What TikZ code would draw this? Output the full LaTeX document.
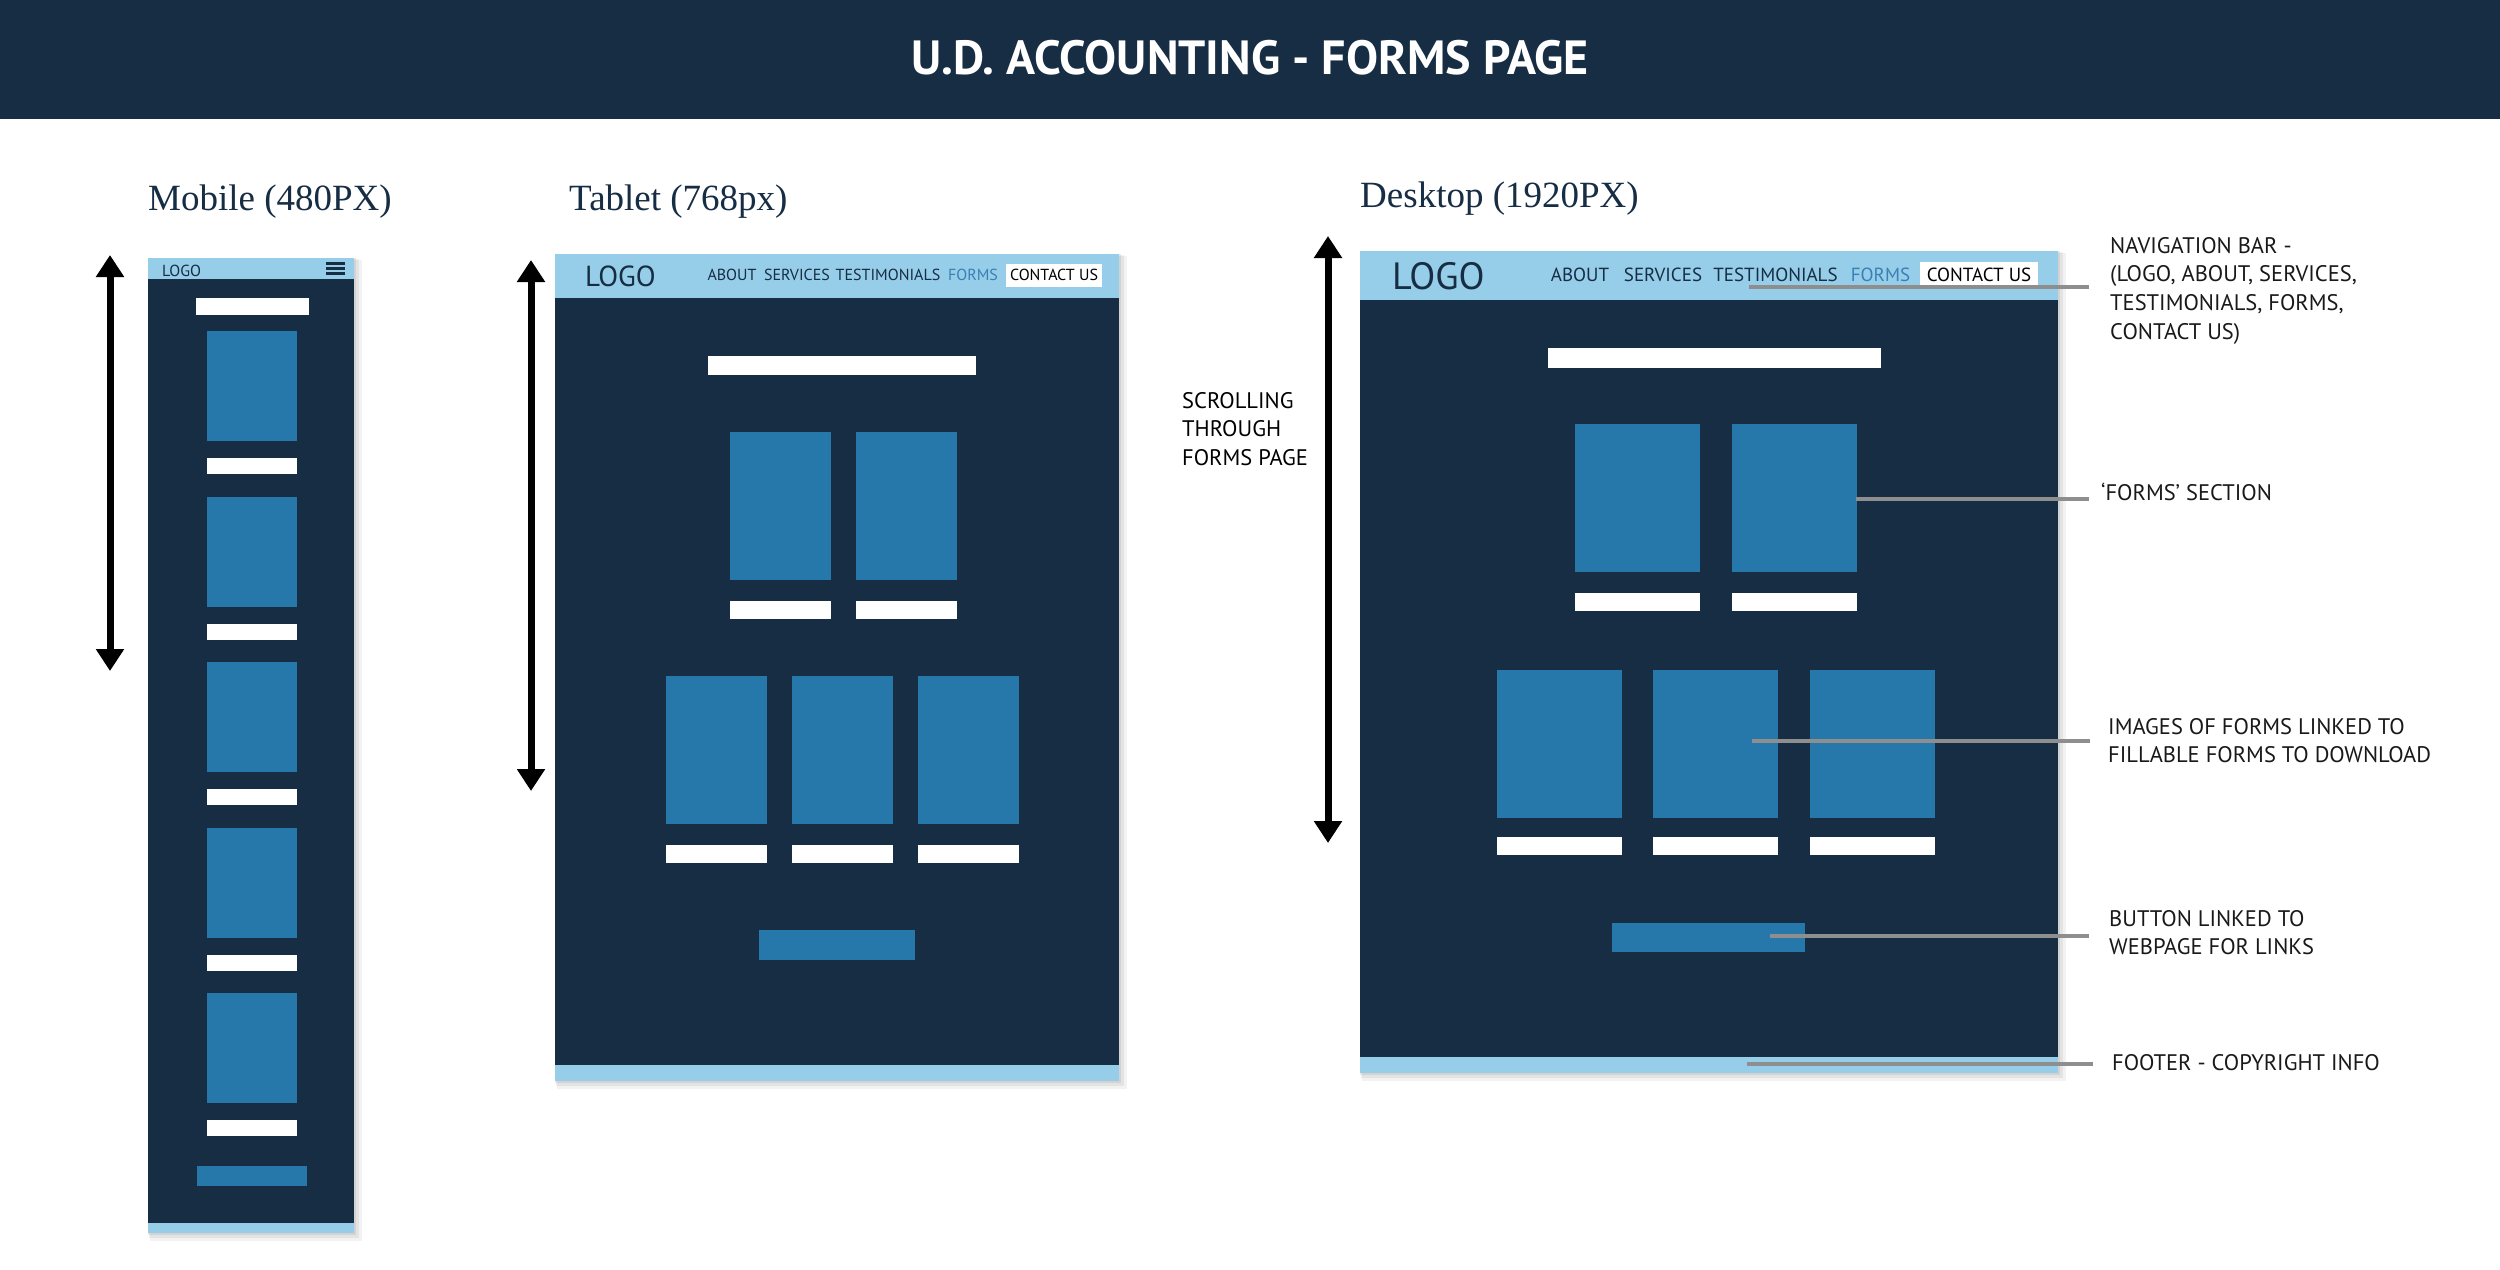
\documentclass[tikz,border=0pt]{standalone}
\usepackage{fontspec}
\setmainfont{PT Sans}
\newfontfamily\ttlserif{Liberation Serif}
\usetikzlibrary{arrows.meta}
\definecolor{navy}{HTML}{162D44}
\definecolor{lightblu}{HTML}{96CDE8}
\definecolor{midblu}{HTML}{2677AA}
\definecolor{formsblu}{HTML}{3A80B5}
\definecolor{leadgray}{HTML}{8E8E8E}
\newcommand\wfshadow[4]{%
  \fill[black,opacity=0.05] (#1+2,#2+2) rectangle (#3+8,#4+8);
  \fill[black,opacity=0.06] (#1+1,#2+1) rectangle (#3+5,#4+5);
  \fill[black,opacity=0.07] (#1,#2) rectangle (#3+2,#4+2);}
\begin{document}
\begin{tikzpicture}[x=1pt,y=-1pt,
  navyfill/.style={fill=navy},
  lightfill/.style={fill=lightblu},
  midfill/.style={fill=midblu},
  whitefill/.style={fill=white},
  leader/.style={draw=leadgray,line width=4pt},
  scrollarrow/.style={draw=black,line width=7pt,{Triangle[width=27pt,length=22pt]}-{Triangle[width=27pt,length=22pt]}},
  lbl/.style={inner sep=0pt,anchor=north west,align=left,font=\fontsize{22.5}{28.7}\selectfont,text=black!90},
  vtitle/.style={inner sep=0pt,anchor=base west,font=\ttlserif\fontsize{37}{40}\selectfont,text=navy},
  navitem/.style={inner sep=0pt,anchor=base,text=navy}]
\useasboundingbox (0,0) rectangle (2500,1269);
\fill[white] (0,0) rectangle (2500,1269);
% header
\fill[navyfill] (0,0) rectangle (2500,119);
\node[inner sep=0pt,anchor=base,text=white,font=\bfseries\fontsize{48}{52}\selectfont] (title) at (1250,74) {U.D. ACCOUNTING - FORMS PAGE};

% view titles
\node[vtitle] (mobt) at (148,210) {Mobile (480PX)};
\node[vtitle] (tabt) at (569,210) {Tablet (768px)};
\node[vtitle] (dest) at (1360,207) {Desktop (1920PX)};

% ---------------- Mobile ----------------
\wfshadow{148}{258}{354}{1233}
\fill[navyfill] (148,258) rectangle (354,1233);
\fill[lightfill] (148,258) rectangle (354,279);
\fill[lightfill] (148,1223) rectangle (354,1233);
\node[navitem,anchor=base west,font=\fontsize{16}{18}\selectfont] (mlogo) at (162,276) {LOGO};
\foreach \yy in {263.5,268.5,273.5}
  \draw[navy,line width=2.8pt] (326,\yy) -- (345,\yy);
\fill[whitefill] (196,298) rectangle (309,315);
\foreach \i in {0,...,4}{
  \fill[midfill] (207,{331+165.5*\i}) rectangle (297,{441+165.5*\i});
  \fill[whitefill] (207,{458+165.5*\i}) rectangle (297,{474+165.5*\i});
}
\fill[midfill] (197,1166) rectangle (307,1186);
\coordinate (ma1) at (110,255);
\coordinate (ma2) at (110,671);
\draw[scrollarrow] (ma1) -- (ma2);

% ---------------- Tablet ----------------
\wfshadow{555}{254}{1119}{1081}
\fill[navyfill] (555,254) rectangle (1119,1081);
\fill[lightfill] (555,254) rectangle (1119,298);
\fill[lightfill] (555,1065) rectangle (1119,1081);
\node[navitem,anchor=base west,font=\fontsize{29}{32}\selectfont] (tlogo) at (585,286) {LOGO};
\fill[whitefill] (1006,264) rectangle (1102,287);
\node[navitem,font=\fontsize{16}{18}\selectfont] (tab1) at (732,280.5) {ABOUT};
\node[navitem,font=\fontsize{16}{18}\selectfont] (tab2) at (797,280.5) {SERVICES};
\node[navitem,font=\fontsize{16}{18}\selectfont] (tab3) at (888,280.5) {TESTIMONIALS};
\node[navitem,font=\fontsize{16}{18}\selectfont,text=formsblu] (tab4) at (973,280.5) {FORMS};
\node[navitem,font=\fontsize{16}{18}\selectfont,text=black] (tab5) at (1054,280.5) {CONTACT US};
\fill[whitefill] (708,356) rectangle (976,375);
\foreach \xx in {730,856}{
  \fill[midfill] (\xx,432) rectangle ({\xx+101},580);
  \fill[whitefill] (\xx,601) rectangle ({\xx+101},619);
}
\foreach \xx in {666,792,918}{
  \fill[midfill] (\xx,676) rectangle ({\xx+101},824);
  \fill[whitefill] (\xx,845) rectangle ({\xx+101},863);
}
\fill[midfill] (759,930) rectangle (915,960);
\coordinate (ta1) at (531,260);
\coordinate (ta2) at (531,791);
\draw[scrollarrow] (ta1) -- (ta2);

% ---------------- Desktop ----------------
\wfshadow{1360}{251}{2058}{1073}
\fill[navyfill] (1360,251) rectangle (2058,1073);
\fill[lightfill] (1360,251) rectangle (2058,300);
\fill[lightfill] (1360,1057) rectangle (2058,1073);
\node[navitem,anchor=base west,font=\fontsize{38}{42}\selectfont] (dlogo) at (1392,289) {LOGO};
\fill[whitefill] (1920,262) rectangle (2038,287);
\node[navitem,font=\fontsize{19}{21}\selectfont] (dab1) at (1580,281.5) {ABOUT};
\node[navitem,font=\fontsize{19}{21}\selectfont] (dab2) at (1663,281.5) {SERVICES};
\node[navitem,font=\fontsize{19}{21}\selectfont] (dab3) at (1775.5,281.5) {TESTIMONIALS};
\node[navitem,font=\fontsize{19}{21}\selectfont,text=formsblu] (dab4) at (1880.5,281.5) {FORMS};
\node[navitem,font=\fontsize{19}{21}\selectfont,text=black] (dab5) at (1979,281.5) {CONTACT US};
\fill[whitefill] (1548,348) rectangle (1881,368);
\foreach \xx in {1575,1732}{
  \fill[midfill] (\xx,424) rectangle ({\xx+125},572);
  \fill[whitefill] (\xx,593) rectangle ({\xx+125},611);
}
\foreach \xx in {1497,1653,1810}{
  \fill[midfill] (\xx,670) rectangle ({\xx+125},818);
  \fill[whitefill] (\xx,837) rectangle ({\xx+125},855);
}
\fill[midfill] (1612,923) rectangle (1805,952);
\coordinate (da1) at (1328,236);
\coordinate (da2) at (1328,843);
\draw[scrollarrow] (da1) -- (da2);

\node[lbl,text=black] (scroll) at (1182,392) {SCROLLING\\THROUGH\\FORMS PAGE};

% labels and leaders
\node[lbl] (navlbl) at (2110,237) {NAVIGATION BAR -\\(LOGO, ABOUT, SERVICES,\\TESTIMONIALS, FORMS,\\CONTACT US)};
\node[lbl] (formlbl) at (2101,483) {‘FORMS’ SECTION};
\node[lbl] (imglbl) at (2108,718) {IMAGES OF FORMS LINKED TO\\FILLABLE FORMS TO DOWNLOAD};
\node[lbl] (btnlbl) at (2109,910) {BUTTON LINKED TO\\WEBPAGE FOR LINKS};
\node[lbl] (ftlbl) at (2112,1054) {FOOTER - COPYRIGHT INFO};

\coordinate (navpt) at (1749,287);
\coordinate (navend) at (2089,287);
\coordinate (formpt) at (1856,499);
\coordinate (formend) at (2089,499);
\coordinate (imgpt) at (1752,741);
\coordinate (imgend) at (2090,741);
\coordinate (btnpt) at (1770,936);
\coordinate (btnend) at (2089,936);
\coordinate (ftpt) at (1747,1064);
\coordinate (ftend) at (2093,1064);
\draw[leader] (navpt) -- (navend);
\draw[leader] (formpt) -- (formend);
\draw[leader] (imgpt) -- (imgend);
\draw[leader] (btnpt) -- (btnend);
\draw[leader] (ftpt) -- (ftend);
\end{tikzpicture}
\end{document}
